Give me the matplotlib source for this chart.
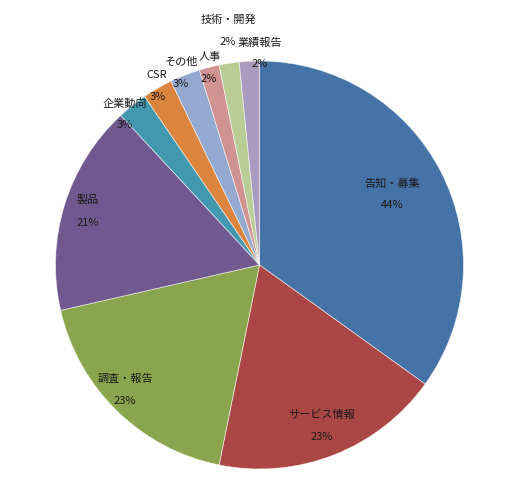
import matplotlib
matplotlib.use("Agg")
import matplotlib.pyplot as plt

# ---- data ----
categories = ["告知・募集", "サービス情報", "調査・報告", "製品", "企業動向",
              "CSR", "その他", "人事", "技術・開発", "業績報告"]
values = [44, 23, 23, 21, 3, 3, 3, 2, 2, 2]
pct_labels = ["44%", "23%", "23%", "21%", "3%", "3%", "3%", "2%", "2%", "2%"]

# ---- style / layout ----
colors = ["#4572A7", "#AA4643", "#89A54E", "#71588F", "#4198AF",
          "#DB843D", "#93A9CF", "#D19392", "#B9CD96", "#A99BBD"]
W, H = 522, 498
cx, cy, R = 259.5, 265, 204
# label positions in pixels (name, percent) measured from the top-left
name_pos = [(392, 183), (322, 415), (125, 379), (88, 200), (125, 103),
            (157, 75), (182, 62), (210, 57), (228, 20), (260, 43)]
pct_pos = [(392, 205), (322, 437), (125, 401), (88, 223), (125, 125),
           (158, 97), (181, 84), (209, 79), (228, 42), (260, 64)]

plt.rcParams['font.family'] = ['Noto Sans CJK JP', 'DejaVu Sans']

fig = plt.figure(figsize=(W / 100, H / 100), dpi=100)
fig.patch.set_facecolor("white")
ax = fig.add_axes([0, 0, 1, 1])

ax.pie(values, colors=colors, startangle=90, counterclock=False,
       center=(cx, H - cy), radius=R, frame=True,
       wedgeprops=dict(edgecolor=(1, 1, 1, 0.6), linewidth=0.6))
ax.set_xlim(0, W)
ax.set_ylim(0, H)
ax.axis("off")

for name, pct, (nx, ny), (px, py) in zip(categories, pct_labels, name_pos, pct_pos):
    ax.text(nx, H - ny, name, ha="center", va="center", fontsize=8, color="#1a1a1a")
    ax.text(px, H - py, pct, ha="center", va="center", fontsize=8, color="#1a1a1a")

fig.savefig("out.png", dpi=100, facecolor="white")
